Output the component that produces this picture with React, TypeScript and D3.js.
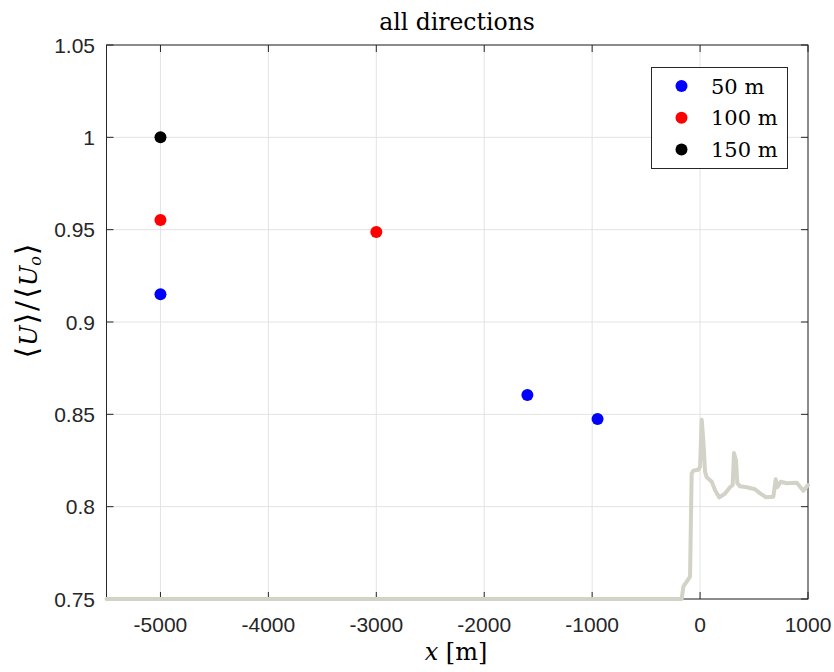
import React from "react";
import * as d3 from "d3";

const xTicks = [-5000, -4000, -3000, -2000, -1000, 0, 1000];
const yTicks = [0.75, 0.8, 0.85, 0.9, 0.95, 1, 1.05];
const yTickLabels = ["0.75", "0.8", "0.85", "0.9", "0.95", "1", "1.05"];

const series50X = [-5000, -1600, -950];
const series50Y = [0.915, 0.8605, 0.8475];
const series100X = [-5000, -3000];
const series100Y = [0.9552, 0.9488];
const series150X = [-5000];
const series150Y = [1.0];

const terrainX = [-5500, -170, -155, -93, -78, -63, -16, 0, 15, 30, 46, 61, 108, 138, 178, 230, 277, 302, 314, 333, 345, 370, 432, 509, 556, 611, 679, 701, 716, 747, 803, 896, 957, 1000];
const terrainY = [0.75, 0.75, 0.7567, 0.7621, 0.818, 0.8195, 0.82, 0.8216, 0.847, 0.836, 0.819, 0.816, 0.8135, 0.809, 0.805, 0.807, 0.8105, 0.8117, 0.829, 0.825, 0.8127, 0.811, 0.8105, 0.8094, 0.8072, 0.8051, 0.8054, 0.8148, 0.8105, 0.8135, 0.8127, 0.813, 0.8086, 0.8117];

const legendLabels = ["50 m", "100 m", "150 m"];
const colors = ["#0000ff", "#ff0000", "#000000"];

export default function App() {
  const W = 834, H = 672;
  const L = 106.5, R = 808, T = 45, B = 599;
  const x = d3.scaleLinear().domain([-5500, 1000]).range([L, R]);
  const y = d3.scaleLinear().domain([0.75, 1.05]).range([B, T]);
  const line = d3.line<number>().x((d) => x(terrainX[d])).y((d) => y(terrainY[d]));
  const terrainPath = line(terrainX.map((_, i) => i)) || "";
  const axisColor = "#262626";
  const tickLen = 7;
  const series = [
    { xs: series50X, ys: series50Y, c: colors[0] },
    { xs: series100X, ys: series100Y, c: colors[1] },
    { xs: series150X, ys: series150Y, c: colors[2] },
  ];
  const serif = "'DejaVu Serif', serif";
  const sans = "'Liberation Sans', Arial, sans-serif";
  return (
    <svg width={W} height={H} style={{ position: "absolute", left: 0, top: 0, background: "#fff" }}>
      <rect x={0} y={0} width={W} height={H} fill="#fff" />
      <rect x={L} y={T} width={R - L} height={B - T} fill="#fff" />
      {/* grid */}
      {xTicks.map((t) => (
        <line key={"gx" + t} x1={x(t)} x2={x(t)} y1={T} y2={B} stroke="#e3e3e3" strokeWidth={1} />
      ))}
      {yTicks.map((t) => (
        <line key={"gy" + t} x1={L} x2={R} y1={y(t)} y2={y(t)} stroke="#e3e3e3" strokeWidth={1} />
      ))}
      {/* box */}
      <rect x={L} y={T} width={R - L} height={B - T} fill="none" stroke={axisColor} strokeWidth={1} />
      {/* ticks */}
      {xTicks.map((t) => (
        <g key={"tx" + t}>
          <line x1={x(t)} x2={x(t)} y1={B} y2={B - tickLen} stroke={axisColor} />
          <line x1={x(t)} x2={x(t)} y1={T} y2={T + tickLen} stroke={axisColor} />
          <text x={x(t)} y={632} textAnchor="middle" fontFamily={sans} fontSize={21} fill={axisColor}>
            {t}
          </text>
        </g>
      ))}
      {yTicks.map((t, i) => (
        <g key={"ty" + t}>
          <line x1={L} x2={L + tickLen} y1={y(t)} y2={y(t)} stroke={axisColor} />
          <line x1={R} x2={R - tickLen} y1={y(t)} y2={y(t)} stroke={axisColor} />
          <text x={95} y={y(t) + 7.5} textAnchor="end" fontFamily={sans} fontSize={21} fill={axisColor}>
            {yTickLabels[i]}
          </text>
        </g>
      ))}
      {/* terrain */}
      <path d={terrainPath} fill="none" stroke="#d3d2c7" strokeWidth={4} strokeLinejoin="round" strokeLinecap="round" />
      {/* points */}
      {series.map((s, si) =>
        s.xs.map((xv, i) => (
          <circle key={"p" + si + "-" + i} cx={x(xv)} cy={y(s.ys[i])} r={6} fill={s.c} />
        ))
      )}
      {/* legend */}
      <rect x={651.5} y={67.5} width={136} height={101} fill="#fff" stroke={axisColor} strokeWidth={1} />
      {legendLabels.map((lab, i) => (
        <g key={"lg" + i}>
          <circle cx={681.5} cy={86 + i * 31.7} r={6} fill={colors[i]} />
          <text x={711} y={86 + i * 31.7 + 7.5} fontFamily={serif} fontSize={21} fill="#000">
            {lab}
          </text>
        </g>
      ))}
      {/* title */}
      <text x={457} y={30} textAnchor="middle" fontFamily={serif} fontSize={23.5} fill="#000">
        all directions
      </text>
      {/* x label */}
      <text x={456} y={660} textAnchor="middle" fontFamily={serif} fontSize={24} fill="#000">
        <tspan fontStyle="italic">x</tspan>
        <tspan> [m]</tspan>
      </text>
      {/* y label */}
      <text
        transform={`translate(37, 301) rotate(-90)`}
        textAnchor="middle"
        fontFamily={serif}
        fontSize={24}
        fill="#000"
      >
        <tspan fontSize={30} fontWeight={300}>⟨</tspan>
        <tspan fontStyle="italic" dx={1}>U</tspan>
        <tspan fontSize={30} dx={1}>⟩</tspan>
        <tspan fontSize={30} dx={2}>/</tspan>
        <tspan fontSize={30} dx={2}>⟨</tspan>
        <tspan fontStyle="italic" dx={1}>U</tspan>
        <tspan fontStyle="italic" fontSize={16} dy={4}>o</tspan>
        <tspan fontSize={30} dy={-4} dx={1}>⟩</tspan>
      </text>
    </svg>
  );
}
